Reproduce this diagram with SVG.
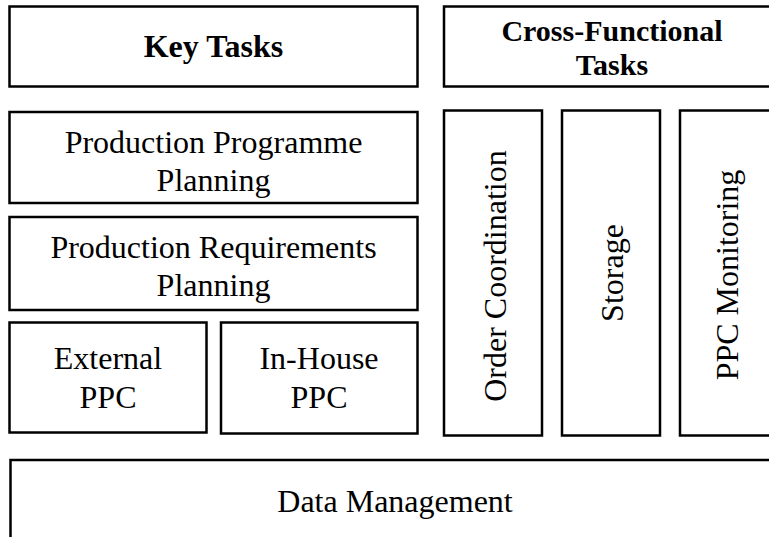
<svg xmlns="http://www.w3.org/2000/svg" width="769" height="537" viewBox="0 0 769 537">
<style>
.box{fill:#fff;stroke:#000;stroke-width:2.5}
.t{font-family:"Liberation Serif","Times New Roman",serif;font-size:32px;fill:#000;text-anchor:middle}
.b{font-weight:bold}
.cf{font-size:30px}
</style>
<rect width="769" height="537" fill="#fff"/>
<g id="key-tasks"><rect class="box" x="9.5" y="6.5" width="408" height="80"/><text class="t b" x="213.5" y="57">Key Tasks</text></g>
<g id="cross-functional"><rect class="box" x="444" y="6.5" width="340" height="80"/><text class="t b cf" x="612" y="41">Cross-Functional</text><text class="t b cf" x="612" y="75">Tasks</text></g>
<g id="prod-programme"><rect class="box" x="9.5" y="112" width="408" height="91"/><text class="t" x="213.5" y="153">Production Programme</text><text class="t" x="213.5" y="191">Planning</text></g>
<g id="prod-requirements"><rect class="box" x="9.5" y="217" width="408" height="93"/><text class="t" x="213.5" y="258">Production Requirements</text><text class="t" x="213.5" y="296">Planning</text></g>
<g id="external-ppc"><rect class="box" x="9.5" y="322.5" width="197" height="110"/><text class="t" x="108" y="369">External</text><text class="t" x="108" y="408">PPC</text></g>
<g id="inhouse-ppc"><rect class="box" x="221" y="322.5" width="196.5" height="111"/><text class="t" x="319" y="369">In-House</text><text class="t" x="319" y="408">PPC</text></g>
<g id="order-coordination"><rect class="box" x="444" y="110.5" width="98" height="325"/><text class="t" transform="translate(506 276) rotate(-90)">Order Coordination</text></g>
<g id="storage"><rect class="box" x="562" y="110.5" width="98" height="325"/><text class="t" transform="translate(622.5 273) rotate(-90)">Storage</text></g>
<g id="ppc-monitoring"><rect class="box" x="680" y="110.5" width="98" height="325"/><text class="t" transform="translate(738 275) rotate(-90)">PPC Monitoring</text></g>
<g id="data-management"><rect class="box" x="10.5" y="460" width="775" height="100"/><text class="t" x="395" y="512">Data Management</text></g>
<g id="connectors"/>
</svg>
